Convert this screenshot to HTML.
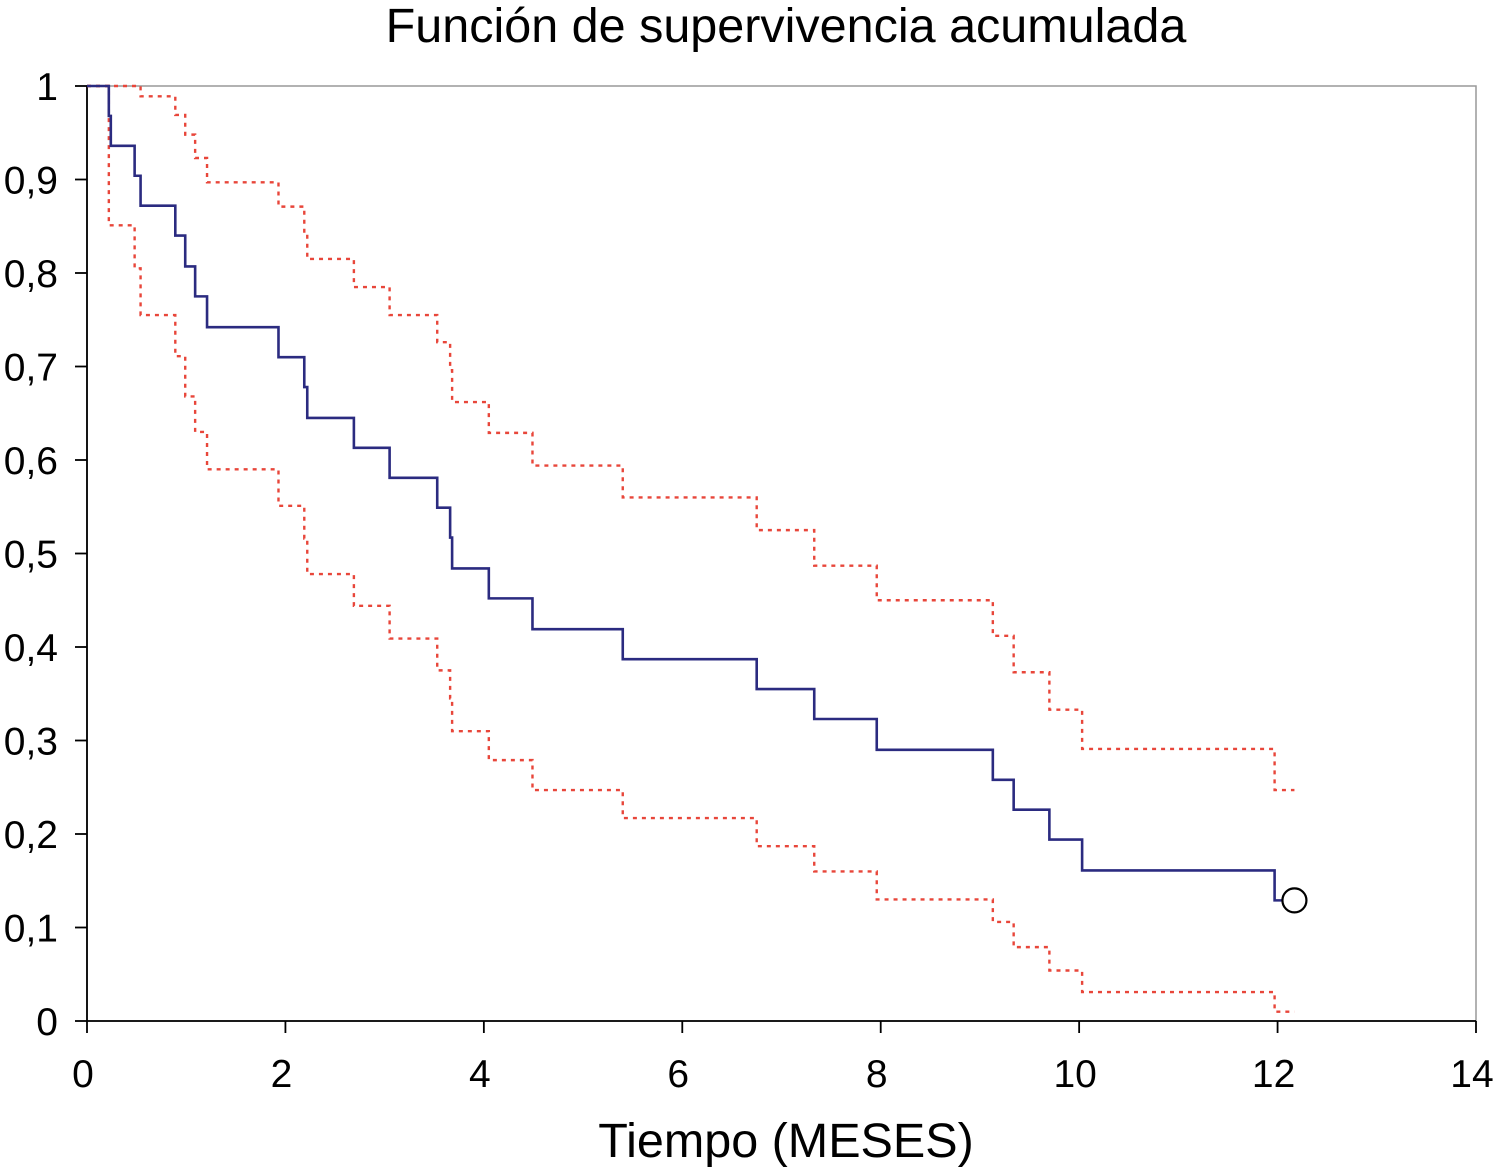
<!DOCTYPE html>
<html><head><meta charset="utf-8"><style>
body{margin:0;background:#fff}
svg{display:block;font-family:"Liberation Sans",sans-serif}
</style></head><body>
<svg id="chart" width="1497" height="1168" viewBox="0 0 1497 1168">
<text x="786" y="42" text-anchor="middle" font-size="48.5">Función de supervivencia acumulada</text>
<rect x="87" y="86" width="1389" height="935" fill="none" stroke="#999" stroke-width="1.5"/>
<g id="axes"></g>
<g id="series"></g>
<text x="786" y="1157" text-anchor="middle" font-size="48.5">Tiempo (MESES)</text>
</svg>
<script>
const times=[0,0.22,0.24,0.48,0.54,0.89,0.99,1.09,1.21,1.93,2.19,2.22,2.69,3.05,3.53,3.66,3.68,4.05,4.49,5.40,6.75,7.33,7.96,9.13,9.34,9.70,10.03,11.97];
const endTime=12.17;
const survival=[1,0.968,0.936,0.904,0.872,0.84,0.807,0.775,0.742,0.71,0.678,0.645,0.613,0.581,0.549,0.517,0.484,0.452,0.419,0.387,0.355,0.323,0.29,0.258,0.226,0.194,0.161,0.129];
const upperCI=[1,1,1,1,0.989,0.969,0.948,0.923,0.897,0.871,0.841,0.815,0.785,0.755,0.726,0.696,0.662,0.629,0.594,0.560,0.525,0.487,0.450,0.412,0.373,0.333,0.291,0.247];
const lowerCI=[1,0.851,0.851,0.805,0.755,0.711,0.668,0.630,0.590,0.551,0.516,0.478,0.444,0.409,0.375,0.345,0.310,0.279,0.247,0.217,0.187,0.160,0.130,0.106,0.079,0.054,0.031,0.010];
const xTicks=[0,2,4,6,8,10,12,14];
const yTicks=[0,0.1,0.2,0.3,0.4,0.5,0.6,0.7,0.8,0.9,1];

const NS="http://www.w3.org/2000/svg";
const X=t=>87+t*(1389/14);
const Y=v=>1021-v*935;
function mk(tag,attrs,parent){const e=document.createElementNS(NS,tag);for(const k in attrs)e.setAttribute(k,attrs[k]);parent.appendChild(e);return e;}
const axes=document.getElementById('axes');
const series=document.getElementById('series');

let ax=mk('line',{x1:87,y1:1021,x2:1476,y2:1021,stroke:'#000','stroke-width':1.8},axes);


let ay=mk('line',{x1:87,y1:86,x2:87,y2:1021,stroke:'#000','stroke-width':1.8},axes);



xTicks.forEach(t=>{
  const l=mk('line',{x1:X(t),y1:1021,x2:X(t),y2:1033,stroke:'#000','stroke-width':1.8},axes);
  
  
  const tx=mk('text',{x:X(t)-4,y:1087,'text-anchor':'middle','font-size':39},axes);
  tx.textContent=String(t);
  
  
});
yTicks.forEach(v=>{
  const l=mk('line',{x1:75,y1:Y(v),x2:87,y2:Y(v),stroke:'#000','stroke-width':1.8},axes);
  
  
  const tx=mk('text',{x:58,y:Y(v)+14,'text-anchor':'end','font-size':39},axes);
  tx.textContent=(v===0||v===1)?String(v):String(v).replace('.',',');
  
  
});

function stepPath(vals){
  let d='M'+X(times[0])+' '+Y(vals[0]);
  for(let i=1;i<times.length;i++){d+=' H'+X(times[i])+' V'+Y(vals[i]);}
  d+=' H'+X(endTime);
  return d;
}
const up=mk('path',{d:stepPath(upperCI),fill:'none',stroke:'#e8463a','stroke-width':2.4,'stroke-dasharray':'4 5'},series);


const lo=mk('path',{d:stepPath(lowerCI),fill:'none',stroke:'#e8463a','stroke-width':2.4,'stroke-dasharray':'4 5'},series);


const sv=mk('path',{d:stepPath(survival),fill:'none',stroke:'#2b2b80','stroke-width':2.6},series);


const c=mk('circle',{cx:X(endTime),cy:Y(survival[survival.length-1]),r:12,fill:'#fff',stroke:'#000','stroke-width':2.2},series);


</script>
</body></html>
